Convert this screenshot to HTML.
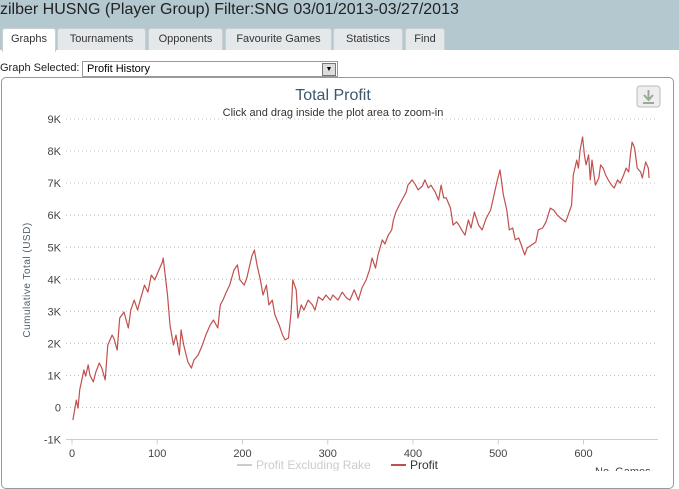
<!DOCTYPE html>
<html><head><meta charset="utf-8">
<style>
body{margin:0;width:679px;height:471px;overflow:hidden;background:#fff;font-family:"Liberation Sans",sans-serif;position:relative}
#hdr{position:absolute;left:0;top:0;width:679px;height:50px;background:#b3c8cf}
#ttl{position:absolute;left:0;top:1px;font-size:16px;color:#222}
.tab{position:absolute;top:28px;height:21px;background:#e4e8ea;border:1px solid #c8d0d4;border-bottom:none;font-size:11px;color:#333;text-align:center;line-height:21px;border-radius:3px 3px 0 0}
.tab.on{background:#fff;height:23px}
#sel-lbl{position:absolute;left:0;top:62px;font-size:11px;color:#222}
#sel{position:absolute;left:82px;top:61px;width:256px;height:14px;border:1px solid #999;font-size:11px;line-height:14px;padding-left:4px;box-sizing:border-box;height:16px}
#selbtn{position:absolute;right:1px;top:1px;width:12px;height:11px;background:#ddd;border:1px solid #777;font-size:7px;text-align:center;line-height:11px}
#box{position:absolute;left:1px;top:77px;width:671px;height:410px;border:1px solid #999;border-radius:5px}
</style></head><body>
<div id="hdr"></div>
<div id="ttl">zilber HUSNG (Player Group) Filter:SNG 03/01/2013-03/27/2013</div>
<div class="tab on" style="left:2px;width:52px">Graphs</div>
<div class="tab" style="left:57px;width:87px">Tournaments</div>
<div class="tab" style="left:148px;width:73px">Opponents</div>
<div class="tab" style="left:225px;width:105px">Favourite Games</div>
<div class="tab" style="left:333px;width:68px">Statistics</div>
<div class="tab" style="left:405px;width:38px">Find</div>
<div id="sel-lbl">Graph Selected:</div>
<div id="sel">Profit History<div id="selbtn">▼</div></div>
<div id="box"></div>
<svg id="chart" width="679" height="471" style="position:absolute;left:0;top:0"></svg>
<script>
const games=[1,5,7,9,14,16,19,21,25,28,32,35,39,42,47,49,53,56,61,66,69,73,77,80,85,89,93,97,101,106,107,112,115,119,122,126,128,131,136,140,143,148,153,157,162,166,171,174,177,181,185,190,194,197,202,205,211,214,217,221,224,228,231,235,238,243,247,250,254,257,259,263,265,269,272,277,282,285,289,294,298,303,306,312,317,322,326,331,336,340,345,349,352,356,359,364,367,371,375,377,380,384,387,392,394,399,403,406,411,414,418,421,426,430,433,436,439,444,447,451,454,457,461,465,468,472,477,481,486,491,495,499,502,506,510,513,517,520,524,527,531,534,539,544,547,552,556,561,565,569,573,579,582,586,588,592,594,596,599,601,603,606,608,610,614,618,620,623,626,629,633,636,640,643,647,650,653,655,657,660,663,667,669,673,676,677];
const profit=[-390,230,-20,550,1170,980,1330,1010,800,1110,1390,1230,860,1950,2260,2170,1790,2790,2980,2480,3040,3350,3040,3350,3820,3600,4130,3980,4230,4540,4660,3510,2570,1950,2260,1640,2420,1950,1420,1230,1480,1640,1950,2260,2570,2730,2480,3200,3350,3600,3820,4290,4450,3980,3820,4040,4730,4910,4450,3980,3510,3820,3200,3350,2890,2570,2260,2110,2170,2980,3980,3670,2790,3200,3040,3350,3200,3040,3450,3350,3510,3350,3510,3350,3600,3420,3350,3670,3350,3730,3980,4290,4660,4350,4760,5230,5100,5380,5540,5850,6100,6320,6470,6720,6940,7100,6940,6790,6910,7100,6850,6940,6720,6470,6940,6540,6540,6220,5690,5790,5690,5540,5380,5850,5600,6100,5690,5540,5910,6160,6630,7100,7410,6630,6160,5540,5600,5230,5290,5070,4760,4980,5070,5160,5540,5600,5790,6220,6160,6010,5910,5790,6010,6320,7250,7720,7470,8030,8440,7880,7570,7880,7100,7720,6940,7160,7570,7470,7250,7100,6940,6850,7100,7000,7250,7470,7350,7880,8280,8100,7470,7350,7160,7660,7470,7160];
const yTicks=[-1000,0,1000,2000,3000,4000,5000,6000,7000,8000,9000];
const yTickLabels=["-1K","0","1K","2K","3K","4K","5K","6K","7K","8K","9K"];
const xTicks=[0,100,200,300,400,500,600];
const NS="http://www.w3.org/2000/svg";
const svg=document.getElementById('chart');
const X0=66,X1=658;
function xs(g){return 72+g*0.8525;}
function ys(v){return 407.5-v*0.03205;}
function mk(t,a,txt){const e=document.createElementNS(NS,t);for(const k in a)e.setAttribute(k,a[k]);if(txt!==undefined)e.textContent=txt;svg.appendChild(e);return e;}
let e;
e=mk('text',{x:333,y:100,'text-anchor':'middle','font-size':16,fill:'#3e576f','font-family':'Liberation Sans, sans-serif'},'Total Profit');


e=mk('text',{x:333,y:116,'text-anchor':'middle','font-size':11,fill:'#333','font-family':'Liberation Sans, sans-serif'},'Click and drag inside the plot area to zoom-in');


e=mk('rect',{x:637,y:86,width:23,height:21,rx:3,fill:'#eee',stroke:'#bbb'});


mk('path',{d:'M648.5 90v9M644 95l4.5 5 4.5-5M643 103h11',stroke:'#9a9',fill:'none','stroke-width':2});
yTicks.forEach((v,i)=>{
  if(v>-1000){e=mk('line',{x1:X0,x2:X1,y1:ys(v),y2:ys(v),stroke:'#c0c0c0','stroke-dasharray':'1,3'});
  
  }
  e=mk('text',{x:61,y:ys(v)+4,'text-anchor':'end','font-size':11,fill:'#444','font-family':'Liberation Sans, sans-serif'},yTickLabels[i]);
  
  
});
e=mk('line',{x1:X0,x2:X1,y1:ys(-1000),y2:ys(-1000),stroke:'#c0d0e0','stroke-width':1});


xTicks.forEach(g=>{
  mk('line',{x1:xs(g),x2:xs(g),y1:ys(-1000),y2:ys(-1000)+5,stroke:'#c0d0e0'});
  e=mk('text',{x:xs(g),y:457,'text-anchor':'middle','font-size':11,fill:'#444','font-family':'Liberation Sans, sans-serif'},String(g));
  
  
});
e=mk('text',{x:0,y:0,transform:'translate(30,280) rotate(-90)','text-anchor':'middle','font-size':10,fill:'#4d5f70','font-family':'Liberation Sans, sans-serif','letter-spacing':'0.5'},'Cumulative Total (USD)');


let d='';games.forEach((g,i)=>{d+=(i?'L':'M')+xs(g).toFixed(1)+' '+ys(profit[i]).toFixed(1);});
e=mk('path',{d:d,fill:'none',stroke:'#c0504d','stroke-width':1.2,'stroke-linejoin':'round'});


mk('line',{x1:237,x2:252,y1:465,y2:465,stroke:'#ccc','stroke-width':2});
e=mk('text',{x:256,y:469,'font-size':12,fill:'#ccc','font-family':'Liberation Sans, sans-serif'},'Profit Excluding Rake');


mk('line',{x1:391,x2:406,y1:465,y2:465,stroke:'#c0504d','stroke-width':2});
e=mk('text',{x:410,y:469,'font-size':12,fill:'#333','font-family':'Liberation Sans, sans-serif'},'Profit');


e=mk('text',{x:595,y:475,'font-size':11,fill:'#444','font-family':'Liberation Sans, sans-serif'},'No. Games');


</script>
</body></html>
